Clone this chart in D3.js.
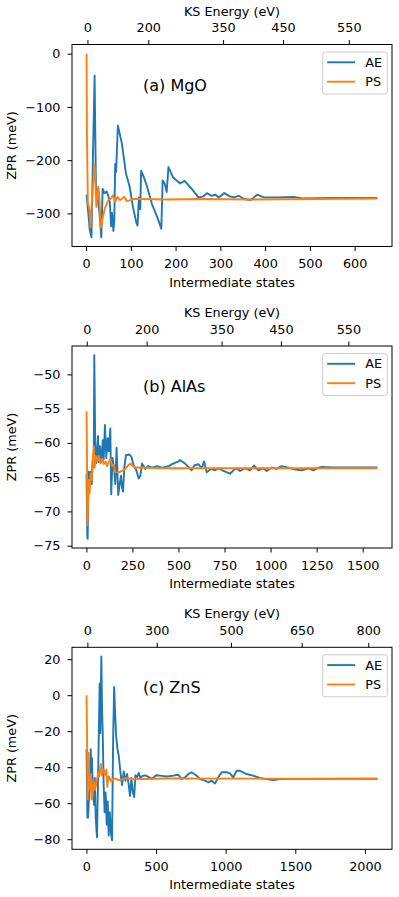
<!DOCTYPE html>
<html>
<head>
<meta charset="utf-8">
<script src="https://cdn.jsdelivr.net/npm/d3@7"></script>
<style>
body { margin: 0; background: #fff; }
text { font-family: "DejaVu Sans", sans-serif; }
</style>
</head>
<body>
<svg id="fig" width="399" height="897"></svg>
<script>
// (a) MgO  [intermediate state, ZPR meV]
var mgoAE = [[1,-265],[5,-300],[8,-330],[12,-345],[15,-207],[19,-41],[22,-251],[26,-270],[30,-300],[34,-345],
  [37,-254],[41,-262],[46,-259],[50,-268],[53,-280],[56,-324],[58,-299],[61,-333],[63,-315],[65,-207],[67,-222],
  [71,-135],[75,-150],[80,-169],[84,-194],[89,-225],[97,-249],[105,-289],[112,-317],[115,-323],[118,-270],
  [121,-292],[123,-220],[129,-232],[136,-249],[147,-282],[159,-307],[168,-329],[171,-238],[176,-245],[180,-260],
  [184,-213],[194,-232],[210,-244],[220,-239],[236,-254],[251,-270],[262,-268],[270,-262],[280,-267],[289,-265],
  [296,-270],[309,-262],[321,-268],[330,-270],[341,-267],[353,-273],[368,-275],[382,-265],[397,-270],[426,-270],
  [464,-269],[482,-272],[553,-271],[651,-271]];
var mgoPS = [[1,0],[2,-163],[4,-282],[7,-290],[10,-326],[13,-276],[16,-241],[19,-208],[23,-288],[27,-250],
  [29,-262],[33,-327],[37,-310],[42,-290],[50,-275],[56,-272],[60,-266],[65,-278],[70,-269],[76,-275],[81,-272],
  [85,-269],[91,-277],[99,-275],[106,-273],[121,-273],[181,-274],[255,-273],[370,-274],[651,-272]];

// (b) AlAs
var alasAE = [[1,-64.5],[5,-73.7],[7,-74.0],[12,-64.2],[18,-66],[23,-64.2],[29,-66],[34,-62.5],[40,-63.5],
  [43,-47.2],[48,-59.6],[52,-63],[58,-61.6],[63,-59],[67,-62.8],[74,-60.5],[82,-62.8],[89,-59.6],[94,-62.4],
  [101,-57.4],[108,-62.2],[116,-59.3],[122,-61.2],[130,-57.9],[135,-67.5],[142,-62.2],[150,-63.6],[157,-66],
  [164,-60.7],[173,-67.6],[181,-66],[188,-64.8],[193,-66.4],[199,-67.1],[206,-63.6],[215,-61.8],[233,-61.7],
  [244,-62],[257,-63.3],[271,-64],[284,-65.2],[293,-64.8],[302,-63],[311,-63.4],[320,-63.8],[335,-63.4],
  [356,-63.6],[384,-63.4],[411,-63.6],[447,-63.4],[465,-63.1],[501,-62.7],[508,-62.5],[535,-63],[553,-63.5],
  [571,-64],[586,-63.3],[608,-63.1],[626,-63.7],[639,-62.7],[653,-64.3],[675,-63.8],[699,-64],[717,-63.7],
  [744,-64.1],[780,-64.5],[798,-64],[816,-63.7],[834,-64.1],[861,-63.7],[888,-64],[910,-63.3],[934,-64],
  [960,-63.7],[979,-64.1],[1006,-63.6],[1033,-63.8],[1060,-63.4],[1096,-63.6],[1133,-63.9],[1169,-64],
  [1205,-63.7],[1232,-64],[1259,-63.6],[1277,-63.5],[1341,-63.6],[1580,-63.6]];
var alasPS = [[1,-55.4],[3,-60],[5,-72],[8,-70.4],[12,-65.4],[18,-67.3],[23,-64.5],[29,-65.4],[34,-63],
  [40,-60.5],[45,-63.6],[52,-61.9],[60,-62.7],[67,-61.9],[76,-63],[86,-62.3],[95,-63.1],[104,-62.7],[113,-63.4],
  [122,-62.7],[131,-62.4],[140,-63.4],[149,-63.2],[157,-64.3],[175,-64.3],[193,-64.1],[211,-63.8],[226,-63.3],
  [239,-63],[252,-63.4],[266,-63.6],[284,-63.6],[400,-63.7],[1580,-63.7]];

// (c) ZnS
var znsAE = [[1,-30],[7,-68],[12,-68],[21,-53],[31,-30],[36,-43],[40,-35],[45,-50],[55,-61],[60,-46],[67,-68.5],
  [76,-79],[88,-26.6],[95,6.5],[100,-21],[107,21.5],[112,-5.6],[117,-20.5],[124,-50],[131,-65],[138,-54],
  [146,-72],[153,-59],[160,-78],[168,-65],[177,-77],[184,-80.5],[192,-24],[199,4.6],[206,-9.5],[213,-22.4],
  [223,-29.8],[232,-33.5],[244,-42.8],[256,-50],[268,-42.4],[280,-47.5],[292,-43.8],[304,-50],[313,-56],
  [323,-46],[333,-53.8],[343,-56.6],[352,-44.5],[364,-45.5],[376,-43.2],[388,-46],[400,-45],[424,-44.5],
  [448,-45.5],[472,-46.4],[500,-44.5],[529,-44.7],[577,-45.2],[624,-44.7],[660,-44.2],[684,-46.6],[708,-45.7],
  [732,-43.8],[756,-42.8],[792,-44.7],[816,-46.6],[852,-47.5],[876,-48.4],[900,-47.5],[924,-49],[947,-45.6],
  [971,-42.8],[1007,-42.8],[1031,-43.4],[1055,-45.6],[1079,-41.9],[1103,-42],[1150,-43.8],[1198,-44.7],
  [1246,-46],[1294,-46.6],[1342,-47.2],[1390,-46.6],[1438,-46.5],[1534,-46.5],[2090,-46.4]];
var znsPS = [[1,0],[4,-18],[9,-58],[14,-32],[21,-50],[28,-53],[31,-44],[38,-58],[45,-56],[50,-47],[55,-49],
  [62,-52.6],[76,-46.6],[88,-42.8],[93,-45],[103,-38.2],[112,-44.5],[124,-41.3],[136,-44.5],[143,-41.3],
  [150,-51],[158,-45],[165,-45.8],[179,-47.9],[195,-46],[217,-46.7],[241,-47.3],[279,-46],[337,-46.7],
  [576,-46.3],[2090,-46.4]];

// axis ticks
var mgoYTicks = [0, -100, -200, -300];
var mgoXTicks = [0, 100, 200, 300, 400, 500, 600];
var mgoKsAt = [3, 139, 306, 440, 587];
var mgoKsLabels = ["0", "200", "350", "450", "550"];

var alasYTicks = [-50, -55, -60, -65, -70, -75];
var alasXTicks = [0, 250, 500, 750, 1000, 1250, 1500];
var alasKsAt = [2, 327, 734, 1056, 1422];
var alasKsLabels = ["0", "200", "350", "450", "550"];

var znsYTicks = [20, 0, -20, -40, -60, -80];
var znsXTicks = [0, 500, 1000, 1500, 2000];
var znsKsAt = [7, 505, 1038, 1546, 2024];
var znsKsLabels = ["0", "300", "500", "650", "800"];

var panels = [
  {ae: mgoAE, ps: mgoPS, name: "(a) MgO", yt: mgoYTicks, xt: mgoXTicks, ksAt: mgoKsAt, ksLab: mgoKsLabels, top: 44.5},
  {ae: alasAE, ps: alasPS, name: "(b) AlAs", yt: alasYTicks, xt: alasXTicks, ksAt: alasKsAt, ksLab: alasKsLabels, top: 346},
  {ae: znsAE, ps: znsPS, name: "(c) ZnS", yt: znsYTicks, xt: znsXTicks, ksAt: znsKsAt, ksLab: znsKsLabels, top: 647.3}
];

var left = 72, right = 392, h = 202;
var blue = "#1f77b4", orange = "#ff7f0e";
var fs = 12.8;
var svg = d3.select("#fig");

// matplotlib style 5% margins
function padded(ext) {
  var m = (ext[1] - ext[0]) * 0.05;
  return [ext[0] - m, ext[1] + m];
}

function styleAxis(g) {
  g.select(".domain").remove();
  g.selectAll("line").attr("stroke", "#000").attr("stroke-width", 1);
  g.selectAll("text").attr("font-family", "DejaVu Sans").attr("font-size", fs).attr("fill", "#000");
}

panels.forEach(function(p) {
  var all = p.ae.concat(p.ps);
  var x = d3.scaleLinear().domain(padded(d3.extent(all, function(d) { return d[0]; }))).range([left, right]);
  var y = d3.scaleLinear().domain(padded(d3.extent(all, function(d) { return d[1]; }))).range([p.top + h, p.top]);

  var g = svg.append("g");

  g.append("clipPath").attr("id", "clip" + p.top)
    .append("rect").attr("x", left).attr("y", p.top).attr("width", right - left).attr("height", h);

  var line = d3.line().x(function(d) { return x(d[0]); }).y(function(d) { return y(d[1]); });

  var plot = g.append("g").attr("clip-path", "url(#clip" + p.top + ")");
  plot.append("path").datum(p.ae).attr("d", line)
    .attr("fill", "none").attr("stroke", blue).attr("stroke-width", 1.9).attr("stroke-linejoin", "round");
  plot.append("path").datum(p.ps).attr("d", line)
    .attr("fill", "none").attr("stroke", orange).attr("stroke-width", 1.9).attr("stroke-linejoin", "round");

  // axes
  g.append("g").attr("transform", "translate(0," + (p.top + h) + ")")
    .call(d3.axisBottom(x).tickValues(p.xt).tickSize(4.5).tickPadding(8).tickFormat(d3.format("d")))
    .call(styleAxis);
  g.append("g").attr("transform", "translate(" + left + ",0)")
    .call(d3.axisLeft(y).tickValues(p.yt).tickSize(4.5).tickPadding(7).tickFormat(d3.format("d")))
    .call(styleAxis);
  var top = g.append("g").attr("transform", "translate(0," + p.top + ")")
    .call(d3.axisTop(x).tickValues(p.ksAt).tickSize(4.5).tickPadding(8)
      .tickFormat(function(d, i) { return p.ksLab[i]; }))
    .call(styleAxis);

  g.append("rect").attr("x", left).attr("y", p.top).attr("width", right - left).attr("height", h)
    .attr("fill", "none").attr("stroke", "#000").attr("stroke-width", 1);

  // labels
  g.append("text").attr("x", (left + right) / 2).attr("y", p.top - 29)
    .attr("text-anchor", "middle").attr("font-size", fs).text("KS Energy (eV)");
  g.append("text").attr("x", (left + right) / 2).attr("y", p.top + h + 40)
    .attr("text-anchor", "middle").attr("font-size", fs).text("Intermediate states");
  g.append("text").attr("transform", "translate(15.5," + (p.top + h / 2) + ") rotate(-90)")
    .attr("text-anchor", "middle").attr("font-size", fs).text("ZPR (meV)");
  g.append("text").attr("x", 143).attr("y", p.top + 46).attr("font-size", 16).text(p.name);

  // legend
  var lg = g.append("g").attr("transform", "translate(322.7," + (p.top + 7.5) + ")");
  lg.append("rect").attr("width", 64.6).attr("height", 42).attr("rx", 2.5)
    .attr("fill", "#fff").attr("fill-opacity", 0.8).attr("stroke", "#ccc").attr("stroke-width", 1);
  [["AE", blue], ["PS", orange]].forEach(function(it, i) {
    var ly = 10.3 + i * 19.4;
    lg.append("line").attr("x1", 4.5).attr("x2", 32.5).attr("y1", ly).attr("y2", ly)
      .attr("stroke", it[1]).attr("stroke-width", 1.9);
    lg.append("text").attr("x", 42.5).attr("y", ly + 4.6).attr("font-size", fs).text(it[0]);
  });
});
</script>
</body>
</html>
